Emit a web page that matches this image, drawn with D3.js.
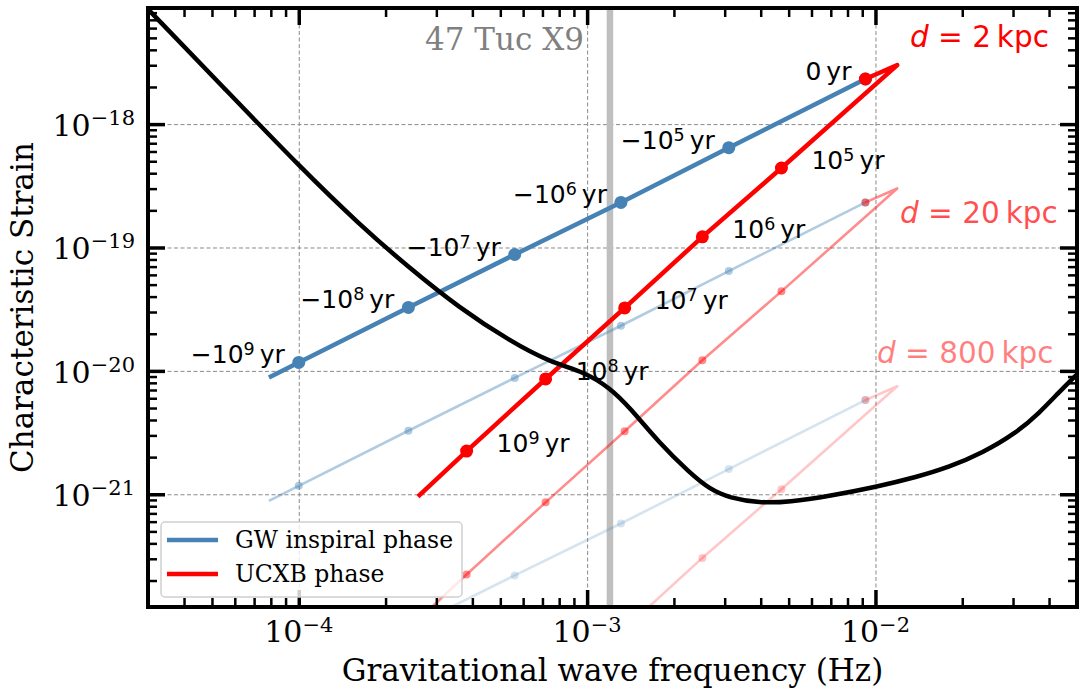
<!DOCTYPE html>
<html>
<head>
<meta charset="utf-8">
<script src="https://cdn.jsdelivr.net/npm/d3@7"></script>
<style>
	body { margin:0; background:#fff; }
	svg { display:block; }
	.grid .domain, .ticks .domain { display:none; }
	.grid line { stroke:#8a8a8a; stroke-width:1; stroke-dasharray:4,2.5; }
	.ticks line { stroke:#000; }
	.serif { font-family:"DejaVu Serif", serif; }
	.sans { font-family:"DejaVu Sans", sans-serif; }
</style>
</head>
<body>
<div id="chart"></div>
<script>

// detector sensitivity curve (Hz, characteristic strain)
var noise_f = [3.02e-5, 5.54e-5, 1.01e-4, 1.63e-4, 2.42e-4, 3.61e-4, 5.39e-4, 7.41e-4, 9.80e-4, 1.20e-3,
	1.40e-3, 1.78e-3, 2.27e-3, 2.66e-3, 3.12e-3, 3.96e-3, 5.03e-3, 6.93e-3, 1.01e-2, 1.39e-2,
	1.80e-2, 2.35e-2, 3.08e-2, 3.70e-2, 4.34e-2, 4.97e-2];
var noise_h = [8.41e-18, 1.93e-18, 4.49e-19, 1.52e-19, 6.82e-20, 3.23e-20, 1.75e-20, 1.18e-20, 9.80e-21, 7.27e-21,
	5.10e-21, 2.60e-21, 1.49e-21, 1.10e-21, 9.33e-22, 8.50e-22, 8.66e-22, 9.69e-22, 1.15e-21, 1.38e-21,
	1.66e-21, 2.16e-21, 3.14e-21, 4.56e-21, 6.75e-21, 9.25e-21];

// GW inspiral phase: start of track, then -1e9 ... -1e5 yr, 0 yr
var gw_f = [7.88e-5, 1.00e-4, 2.40e-4, 5.61e-4, 1.31e-3, 3.10e-3, 9.23e-3];
var gw_h_2kpc = [8.85e-21, 1.17e-20, 3.27e-20, 8.77e-20, 2.32e-19, 6.44e-19, 2.32e-18];
var gw_h_20kpc = [8.85e-22, 1.17e-21, 3.27e-21, 8.77e-21, 2.32e-20, 6.44e-20, 2.32e-19];
var gw_h_800kpc = [2.2e-23, 2.9e-23, 8.2e-23, 2.2e-22, 5.8e-22, 1.6e-21, 5.8e-21];
var gw_base = ['\u221210', '\u221210', '\u221210', '\u221210', '\u221210', '0'];
var gw_exp = ['9', '8', '7', '6', '5', ''];

// UCXB phase: 0 yr, period minimum, then 1e5 ... 1e9 yr, end of track
var ucxb_f = [9.23e-3, 1.19e-2, 4.72e-3, 2.51e-3, 1.35e-3, 7.18e-4, 3.82e-4, 2.59e-4];
var ucxb_h_2kpc = [2.32e-18, 3.01e-18, 4.41e-19, 1.22e-19, 3.24e-20, 8.6e-21, 2.24e-21, 9.57e-22];
var ucxb_h_20kpc = [2.32e-19, 3.01e-19, 4.41e-20, 1.22e-20, 3.24e-21, 8.6e-22, 2.24e-22, 9.57e-23];
var ucxb_h_800kpc = [5.8e-21, 7.5e-21, 1.1e-21, 3.05e-22, 8.1e-23, 2.15e-23, 5.6e-24, 2.4e-24];
var ucxb_exp = ['5', '6', '7', '8', '9'];

var distances = ['2', '20', '800'];
var tuc_f = 1.2e-3;

var x_major = [1e-4, 1e-3, 1e-2];
var x_exp = ['\u22124', '\u22123', '\u22122'];
var y_major = [1e-21, 1e-20, 1e-19, 1e-18];
var y_exp = ['\u221221', '\u221220', '\u221219', '\u221218'];

const width = 1080
const height = 689
const L = 148, R = 1077, T = 8, B = 607;

var svg = d3.select('#chart').append('svg')
	.attr('width', width)
	.attr('height', height);

var x = d3.scaleLog().domain([3e-5, 5e-2]).range([L, R]);
var y = d3.scaleLog().domain([1.22e-22, 8.73e-18]).range([B, T]);

svg.append('clipPath').attr('id', 'clip')
	.append('rect').attr('x', L).attr('y', T).attr('width', R - L).attr('height', B - T);

// dashed grid on the major ticks
svg.append('g').attr('class', 'grid').attr('transform', 'translate(0,' + B + ')')
	.call(d3.axisBottom(x).tickValues(x_major).tickSize(-(B - T)).tickFormat(''));
svg.append('g').attr('class', 'grid').attr('transform', 'translate(' + L + ',0)')
	.call(d3.axisLeft(y).tickValues(y_major).tickSize(-(R - L)).tickFormat(''));

var plot = svg.append('g').attr('clip-path', 'url(#clip)');

// 47 Tuc X9 band
plot.append('rect')
	.attr('x', x(tuc_f) - 3.25).attr('y', T)
	.attr('width', 6.5).attr('height', B - T)
	.attr('fill', '#bfbfbf');

var line = d3.line()
	.x(function(d){ return x(d[0]); })
	.y(function(d){ return y(d[1]); });

function track(g, f, h, color, lw, r, alpha, marks) {
	var pts = d3.zip(f, h);
	g.append('path').datum(pts)
		.attr('d', line)
		.attr('fill', 'none')
		.attr('stroke', color)
		.attr('stroke-width', lw)
		.attr('stroke-linejoin', 'round')
		.attr('opacity', alpha);
	g.selectAll(null).data(marks.map(function(i){ return pts[i]; })).enter()
		.append('circle')
		.attr('cx', function(d){ return x(d[0]); })
		.attr('cy', function(d){ return y(d[1]); })
		.attr('r', r)
		.attr('fill', color)
		.attr('opacity', alpha);
}

var gw_marks = [1, 2, 3, 4, 5, 6];
var ucxb_marks = [0, 2, 3, 4, 5, 6];

// faint tracks for the far distances
track(plot, gw_f, gw_h_800kpc, 'steelblue', 2.6, 4, 0.22, gw_marks);
track(plot, ucxb_f, ucxb_h_800kpc, 'red', 2.6, 4, 0.22, ucxb_marks);
track(plot, gw_f, gw_h_20kpc, 'steelblue', 2.6, 4, 0.42, gw_marks);
track(plot, ucxb_f, ucxb_h_20kpc, 'red', 2.6, 4, 0.45, ucxb_marks);
// d = 2 kpc
track(plot, gw_f, gw_h_2kpc, 'steelblue', 4.5, 6.5, 1, gw_marks);
track(plot, ucxb_f, ucxb_h_2kpc, 'red', 4.5, 6.5, 1, ucxb_marks);

// sensitivity curve
var smooth = d3.line()
	.x(function(d){ return x(d[0]); })
	.y(function(d){ return y(d[1]); })
	.curve(d3.curveBasis);
plot.append('path').datum(d3.zip(noise_f, noise_h))
	.attr('d', smooth)
	.attr('fill', 'none')
	.attr('stroke', '#000')
	.attr('stroke-width', 4.5);

// ticks on all four sides, pointing in
var x_minor = x.ticks().filter(function(v){ return Math.abs(Math.log10(v) % 1) > 1e-6; });
var y_minor = y.ticks().filter(function(v){ return Math.abs(Math.log10(v) % 1) > 1e-6; });

function ticks(axis, tr, major, minor) {
	svg.append('g').attr('class', 'ticks').attr('transform', tr)
		.call(axis.tickValues(minor).tickSizeInner(-9).tickSizeOuter(0).tickFormat(''))
		.selectAll('line').attr('stroke-width', 2.5);
	svg.append('g').attr('class', 'ticks').attr('transform', tr)
		.call(axis.tickValues(major).tickSizeInner(-17).tickSizeOuter(0).tickFormat(''))
		.selectAll('line').attr('stroke-width', 3.5);
}
ticks(d3.axisBottom(x), 'translate(0,' + B + ')', x_major, x_minor);
ticks(d3.axisTop(x), 'translate(0,' + T + ')', x_major, x_minor);
ticks(d3.axisLeft(y), 'translate(' + L + ',0)', y_major, y_minor);
ticks(d3.axisRight(y), 'translate(' + R + ',0)', y_major, y_minor);

svg.append('rect')
	.attr('x', L).attr('y', T).attr('width', R - L).attr('height', B - T)
	.attr('fill', 'none').attr('stroke', '#000').attr('stroke-width', 4);

// tick labels as 10^n
x_major.forEach(function(v, i){
	var t = svg.append('text').attr('class', 'serif')
		.attr('x', x(v)).attr('y', 642)
		.attr('text-anchor', 'middle').attr('font-size', 30);
	t.append('tspan').text('10');
	t.append('tspan').attr('dy', -10).attr('font-size', 21).text(x_exp[i]);
});
y_major.forEach(function(v, i){
	var t = svg.append('text').attr('class', 'serif')
		.attr('x', 135).attr('y', y(v) + 12)
		.attr('text-anchor', 'end').attr('font-size', 30);
	t.append('tspan').text('10');
	t.append('tspan').attr('dy', -11).attr('font-size', 21).text(y_exp[i]);
});

// axis titles
svg.append('text').attr('class', 'serif')
	.attr('x', (L + R) / 2).attr('y', 681)
	.attr('text-anchor', 'middle').attr('font-size', 31)
	.text('Gravitational wave frequency (Hz)');
svg.append('text').attr('class', 'serif')
	.attr('transform', 'translate(33,' + (T + B) / 2 + ') rotate(-90)')
	.attr('text-anchor', 'middle').attr('font-size', 31)
	.text('Characteristic Strain');

svg.append('text').attr('class', 'serif')
	.attr('x', x(tuc_f) - 26).attr('y', 50)
	.attr('text-anchor', 'end').attr('font-size', 31)
	.attr('fill', 'gray')
	.text('47 Tuc X9');

// age labels
function age(px, py, anchor, base, exp) {
	var t = svg.append('text').attr('class', 'sans')
		.attr('x', px).attr('y', py)
		.attr('text-anchor', anchor).attr('font-size', 25);
	t.append('tspan').text(base);
	if (exp) {
		t.append('tspan').attr('dy', -8).attr('font-size', 17.5).text(exp);
		t.append('tspan').attr('dy', 8).text('\u2009yr');
	} else {
		t.append('tspan').text('\u2009yr');
	}
}
gw_base.forEach(function(b, i){
	var k = i + 1;
	age(x(gw_f[k]) - 14, y(gw_h_2kpc[k]) + 1, 'end', b, gw_exp[i]);
});
ucxb_exp.forEach(function(e, i){
	var k = i + 2;
	age(x(ucxb_f[k]) + 30, y(ucxb_h_2kpc[k]) + 1, 'start', '10', e);
});

// distance labels
var dist_pos = [[910, 47, 1], [900, 223, 0.7], [877, 363, 0.5]];
distances.forEach(function(d, i){
	var t = svg.append('text').attr('class', 'sans')
		.attr('x', dist_pos[i][0]).attr('y', dist_pos[i][1])
		.attr('font-size', 29.5).attr('fill', 'red')
		.attr('fill-opacity', dist_pos[i][2]);
	t.append('tspan').attr('font-style', 'italic').text('d');
	t.append('tspan').text(' = ' + d + '\u2009kpc');
});

// legend
var lg = svg.append('g');
lg.append('rect')
	.attr('x', 161).attr('y', 522).attr('width', 301).attr('height', 75).attr('rx', 4)
	.attr('fill', '#fff').attr('fill-opacity', 0.8)
	.attr('stroke', '#d0d0d0').attr('stroke-width', 1.5);
[['GW inspiral phase', 'steelblue'], ['UCXB phase', 'red']].forEach(function(e, i){
	lg.append('line')
		.attr('x1', 167).attr('x2', 218)
		.attr('y1', 540 + i * 34).attr('y2', 540 + i * 34)
		.attr('stroke', e[1]).attr('stroke-width', 4.5);
	lg.append('text').attr('class', 'serif')
		.attr('x', 235).attr('y', 548 + i * 34)
		.attr('font-size', 23.5)
		.text(e[0]);
});

</script>
</body>
</html>
